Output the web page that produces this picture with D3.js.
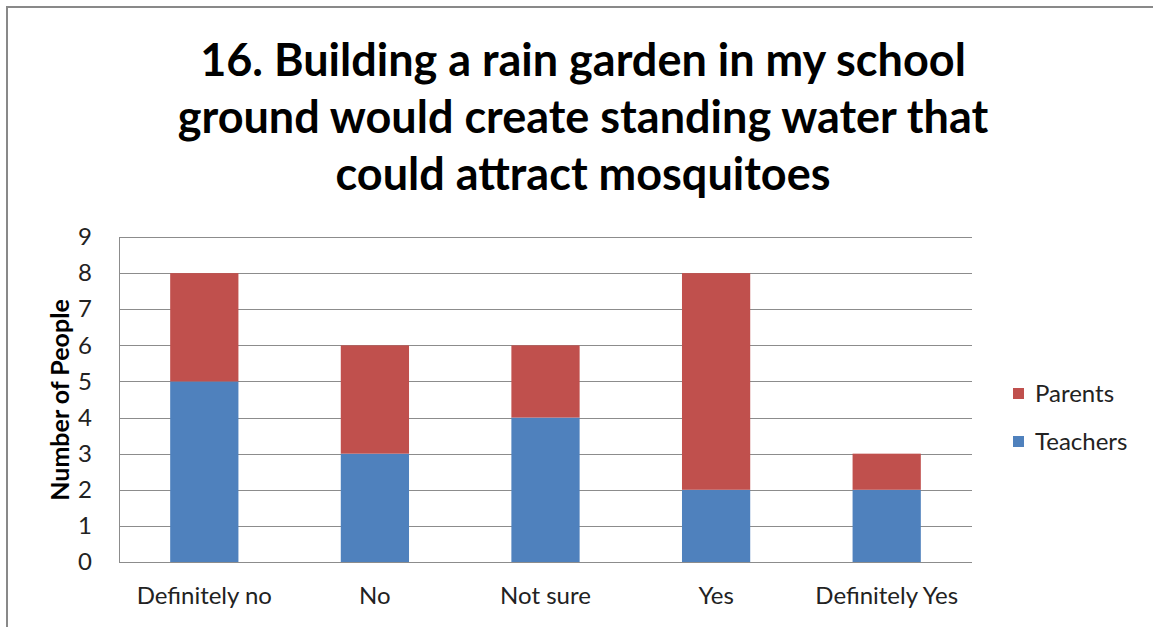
<!DOCTYPE html>
<html>
<head>
<meta charset="utf-8">
<script src="https://cdn.jsdelivr.net/npm/d3@7"></script>
<style>
  html, body { margin: 0; padding: 0; background: #fff; }
  svg { display: block; }
  text { font-family: Lato, "Open Sans", sans-serif; }
</style>
</head>
<body>
<svg id="chart" width="1153" height="627"></svg>
<script>
const categories = ["Definitely no", "No", "Not sure", "Yes", "Definitely Yes"];
const teachers = [5, 3, 4, 2, 2];
const parents = [3, 3, 2, 6, 1];
const seriesNames = ["Teachers", "Parents"];
const seriesColors = ["#4F81BD", "#C0504D"];
const yTicks = [0, 1, 2, 3, 4, 5, 6, 7, 8, 9];
const titleLines = ["16. Building a rain garden in my school", "ground would create standing water that", "could attract mosquitoes"];
const yLabel = "Number of People";

const svg = d3.select("#chart");
const W = 1153, H = 627;

// outer border
svg.append("rect").attr("x", 7).attr("y", 7).attr("width", W + 10).attr("height", H + 10)
  .attr("fill", "#fff").attr("stroke", "#898989").attr("stroke-width", 2);

const plot = { left: 119, right: 972, top: 237, bottom: 562 };

const x = d3.scaleBand().domain(categories).range([plot.left, plot.right]).padding(0);
const y = d3.scaleLinear().domain([0, 9]).range([plot.bottom, plot.top]);

// gridlines
svg.append("g").selectAll("line").data(yTicks).join("line")
  .attr("x1", plot.left).attr("x2", plot.right)
  .attr("y1", d => Math.round(y(d)) + 0.5).attr("y2", d => Math.round(y(d)) + 0.5)
  .attr("stroke", "#8c8c8c").attr("stroke-width", 1);

// left axis line
svg.append("line").attr("x1", plot.left + 0.5).attr("x2", plot.left + 0.5)
  .attr("y1", plot.top).attr("y2", plot.bottom)
  .attr("stroke", "#8c8c8c").attr("stroke-width", 1);

// stacked data
const rows = categories.map((c, i) => ({ cat: c, Teachers: teachers[i], Parents: parents[i] }));
const stack = d3.stack().keys(seriesNames)(rows);
const barW = x.bandwidth() * 0.4;

svg.append("g").selectAll("g").data(stack).join("g")
  .attr("fill", (d, i) => seriesColors[i])
  .selectAll("rect").data(d => d).join("rect")
  .attr("x", d => x(d.data.cat) + (x.bandwidth() - barW) / 2)
  .attr("width", barW)
  .attr("y", d => y(d[1]))
  .attr("height", d => y(d[0]) - y(d[1]));

// y ticks
const yAxis = d3.axisLeft(y).tickValues(yTicks).tickSize(0).tickPadding(27);
const ya = svg.append("g").attr("transform", `translate(${plot.left},0)`).call(yAxis);
ya.select(".domain").remove();
ya.selectAll("text").attr("font-size", 24).attr("fill", "#222").style("font-family", "Lato, sans-serif");

// x labels
const xAxis = d3.axisBottom(x).tickSize(0).tickPadding(25);
const xa = svg.append("g").attr("transform", `translate(0,${plot.bottom})`).call(xAxis);
xa.select(".domain").remove();
xa.selectAll("text").attr("font-size", 24).attr("fill", "#222").style("font-family", "Lato, sans-serif");

// y label
svg.append("text").attr("transform", `translate(69,400) rotate(-90)`)
  .attr("text-anchor", "middle").attr("font-size", 25).attr("font-weight", "bold").attr("fill", "#000")
  .text(yLabel);

// title
svg.append("g").selectAll("text").data(titleLines).join("text")
  .attr("x", 583).attr("y", (d, i) => 76 + i * 57)
  .attr("text-anchor", "middle").attr("font-size", 45).attr("font-weight", "bold").attr("fill", "#000")
  .text(d => d);

// legend
const legendItems = [{ name: "Parents", color: seriesColors[1] }, { name: "Teachers", color: seriesColors[0] }];
const lg = svg.append("g").selectAll("g").data(legendItems).join("g")
  .attr("transform", (d, i) => `translate(1013,${388 + i * 48})`);
lg.append("rect").attr("width", 11).attr("height", 11).attr("fill", d => d.color);
lg.append("text").attr("x", 22).attr("y", 14).attr("font-size", 24).attr("fill", "#222").text(d => d.name);
</script>
</body>
</html>
